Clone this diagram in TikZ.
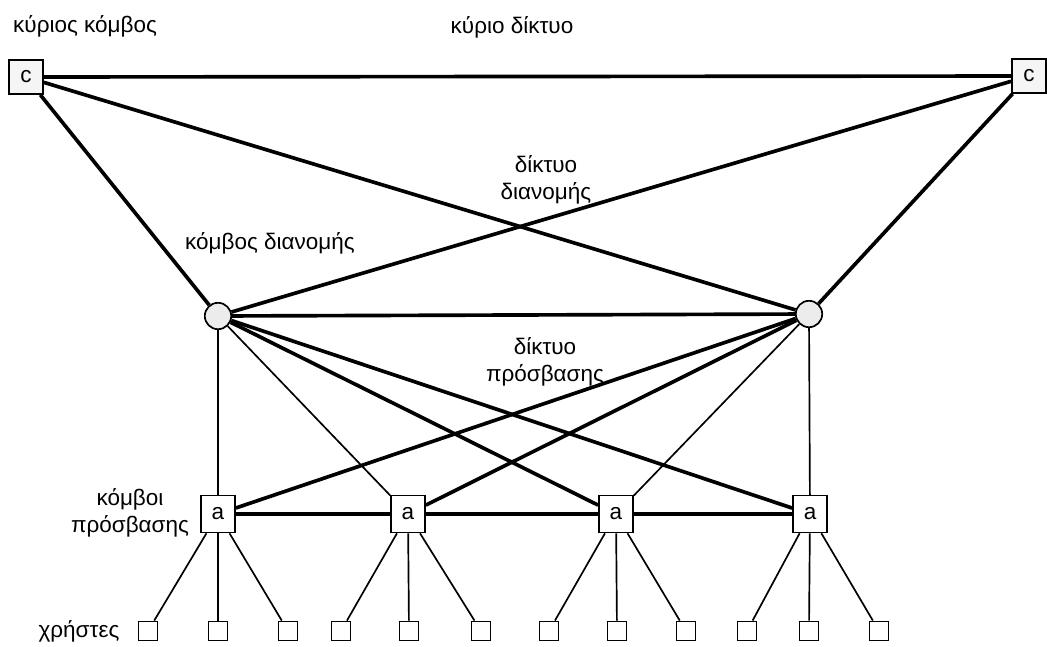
\documentclass[tikz,border=0pt]{standalone}
\usepackage{fontspec}
\setmainfont{Liberation Sans}
\begin{document}
\begin{tikzpicture}[x=0.025cm, y=-0.025cm, thick]
                % 1. Styles
                \tikzstyle{Core}   = [rectangle, draw, line width=1.2pt, fill=gray!8, minimum size=0.85cm, inner sep=0pt, font=\fontsize{16}{18}\selectfont]
                \tikzstyle{Dist}   = [circle, draw, line width=1.2pt, fill=gray!15, minimum size=0.66cm, inner sep=0pt]
                \tikzstyle{Access} = [rectangle, draw, line width=1.2pt, fill=white, minimum width=0.85cm, minimum height=0.92cm, inner sep=0pt, font=\fontsize{16}{18}\selectfont]
                \tikzstyle{User}   = [rectangle, draw, line width=1.2pt, fill=white, minimum size=0.48cm, inner sep=0pt]
                \tikzstyle{Label}  = [font=\fontsize{16}{19}\selectfont, align=center]
                \tikzstyle{Heavy}  = [line width=2.6pt]
                \tikzstyle{Light}  = [line width=1.2pt]

                \useasboundingbox (0,0) rectangle (1047,646);

                % 2. Core nodes
                \node[Core] (CL) at (26, 77) {c};
                \node[Core] (CR) at (1029, 76) {c};

                % Distribution nodes
                \node[Dist] (DL) at (218, 316) {};
                \node[Dist] (DR) at (809, 314) {};

                % Access nodes
                \node[Access] (A1) at (218, 514) {a};
                \node[Access] (A2) at (408, 514) {a};
                \node[Access] (A3) at (616, 514) {a};
                \node[Access] (A4) at (810, 514) {a};

                % Users
                \node[User] (U1)  at (148, 631) {};
                \node[User] (U2)  at (218, 631) {};
                \node[User] (U3)  at (288, 631) {};
                \node[User] (U4)  at (341, 631) {};
                \node[User] (U5)  at (409, 631) {};
                \node[User] (U6)  at (481, 631) {};
                \node[User] (U7)  at (549, 631) {};
                \node[User] (U8)  at (617, 631) {};
                \node[User] (U9)  at (686, 631) {};
                \node[User] (U10) at (747, 631) {};
                \node[User] (U11) at (809, 631) {};
                \node[User] (U12) at (879, 631) {};

                % 3. Core network
                \draw[Heavy] (CL) -- (CR);
                \draw[Heavy] (CL) -- (DL);
                \draw[Heavy] (CL) -- (DR);
                \draw[Heavy] (CR) -- (DL);
                \draw[Heavy] (CR) -- (DR);

                % Distribution network
                \draw[Heavy] (DL) -- (DR);
                \draw[Light] (DL) -- (A1);
                \draw[Light] (DL) -- (A2);
                \draw[Heavy] (DL) -- (A3);
                \draw[Heavy] (DL) -- (A4);
                \draw[Heavy] (DR) -- (A1);
                \draw[Heavy] (DR) -- (A2);
                \draw[Light] (DR) -- (A3);
                \draw[Light] (DR) -- (A4);

                % Access network
                \draw[Heavy] (A1) -- (A2);
                \draw[Heavy] (A2) -- (A3);
                \draw[Heavy] (A3) -- (A4);

                % 4. Users
                \draw[Light] (A1) -- (U1);
                \draw[Light] (A1) -- (U2);
                \draw[Light] (A1) -- (U3);
                \draw[Light] (A2) -- (U4);
                \draw[Light] (A2) -- (U5);
                \draw[Light] (A2) -- (U6);
                \draw[Light] (A3) -- (U7);
                \draw[Light] (A3) -- (U8);
                \draw[Light] (A3) -- (U9);
                \draw[Light] (A4) -- (U10);
                \draw[Light] (A4) -- (U11);
                \draw[Light] (A4) -- (U12);

                % 5. Labels
                \node[Label, anchor=west] (LblCoreNode) at (8, 26) {κύριος κόμβος};
                \node[Label] (LblCoreNet)   at (512, 27)  {κύριο δίκτυο};
                \node[Label] (LblDistNet)   at (546, 180) {δίκτυο\\διανομής};
                \node[Label] (LblDistNode)  at (270, 243) {κόμβος διανομής};
                \node[Label] (LblAccNet)    at (545, 362) {δίκτυο\\πρόσβασης};
                \node[Label] (LblAccNode)   at (130, 513) {κόμβοι\\πρόσβασης};
                \node[Label] (LblUsers)     at (79, 631)  {χρήστες};

            \end{tikzpicture}
\end{document}
